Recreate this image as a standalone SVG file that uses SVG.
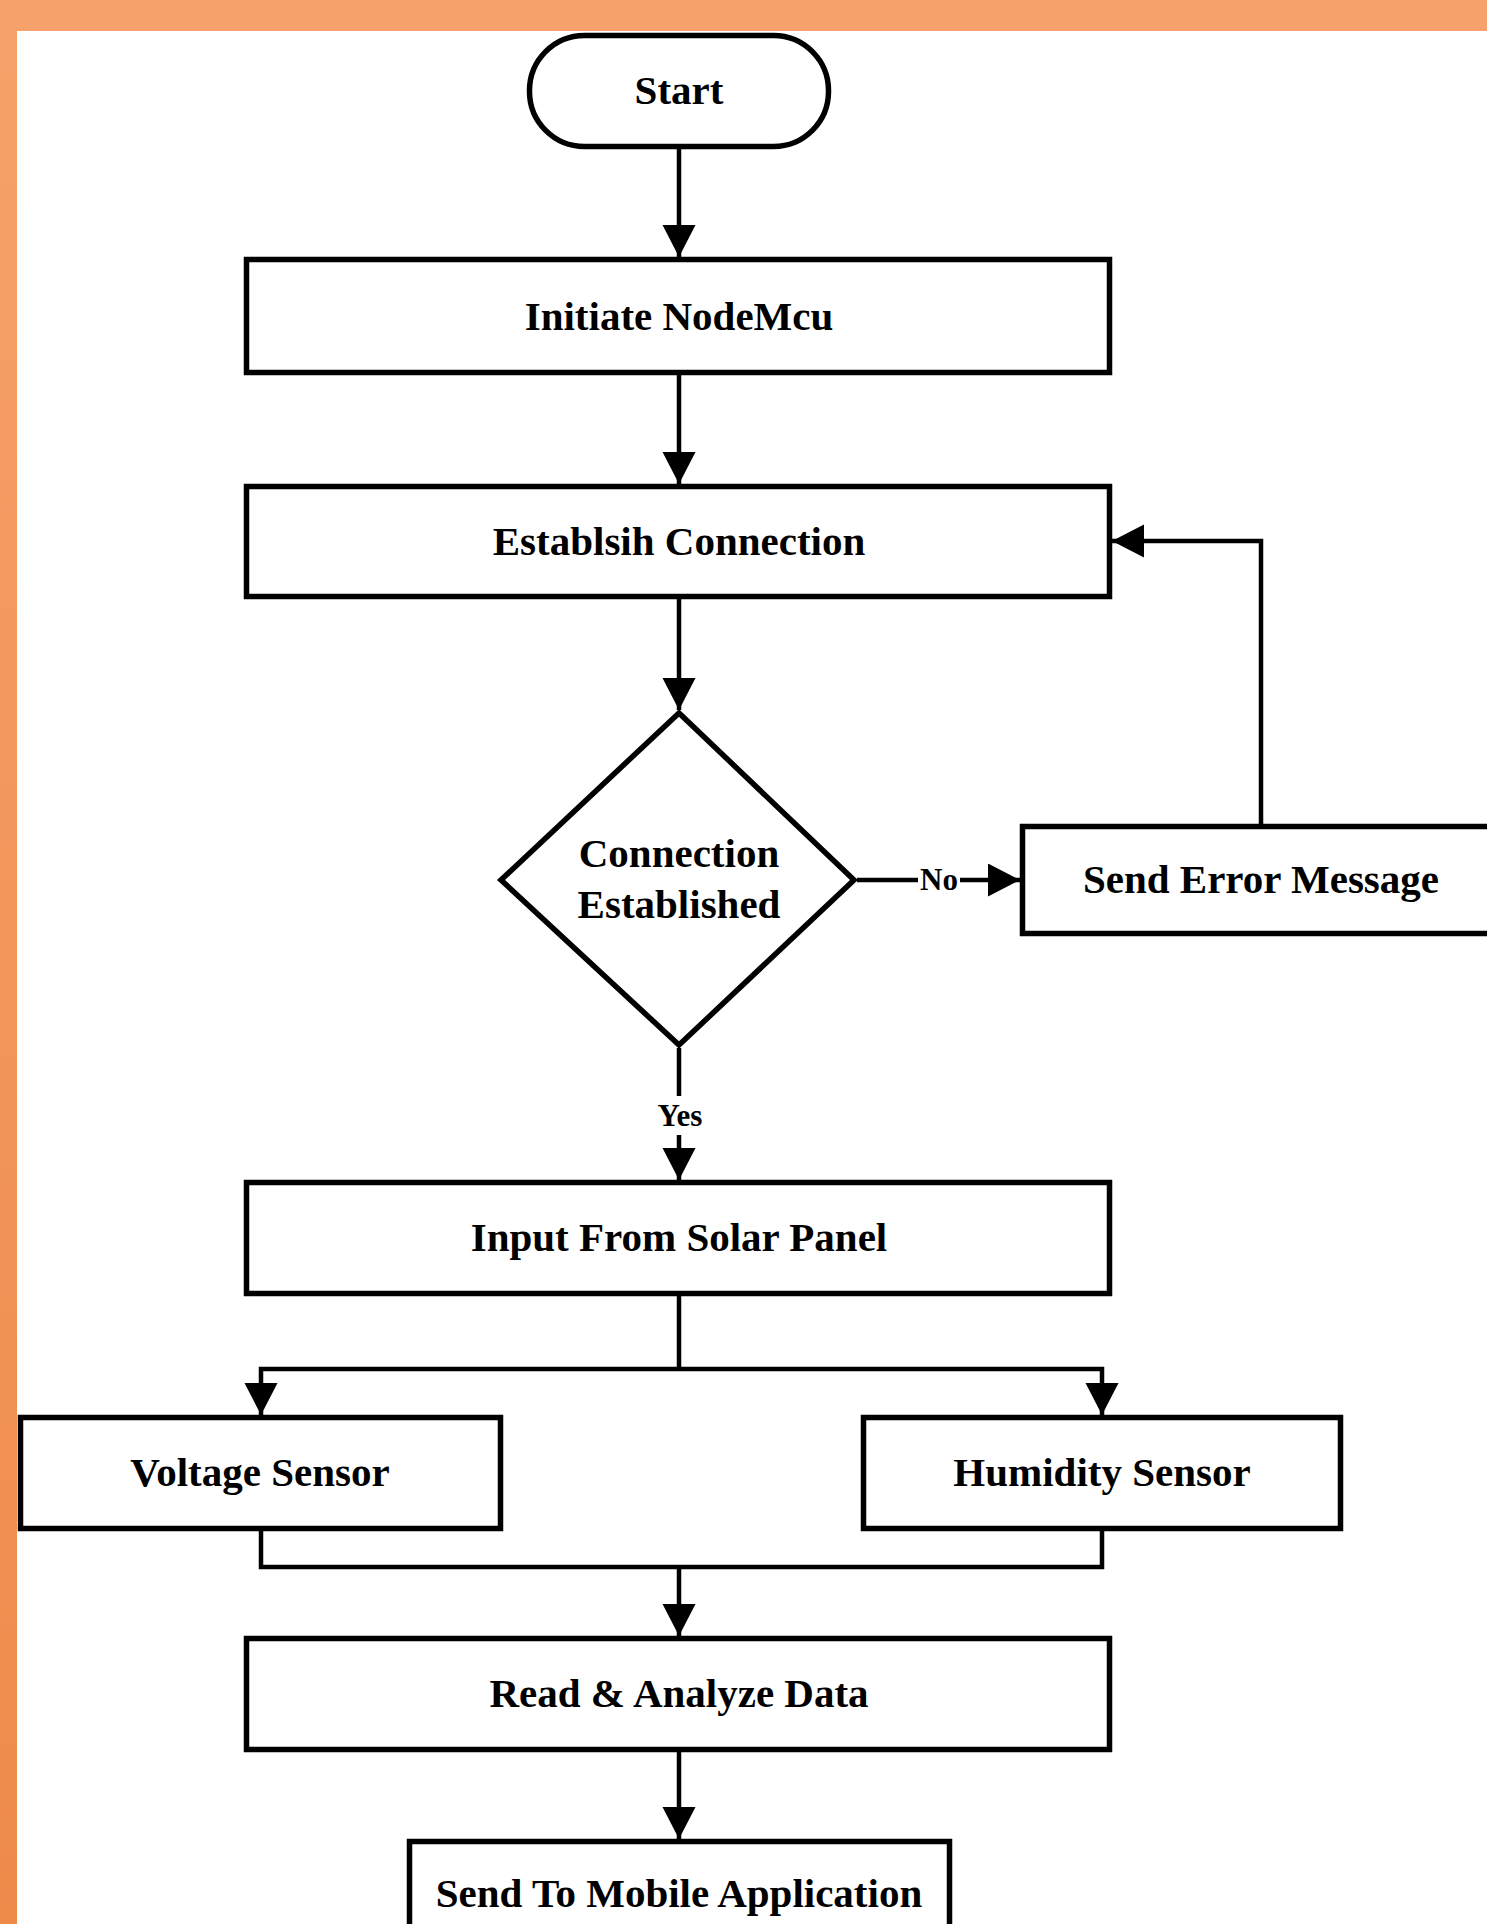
<svg xmlns="http://www.w3.org/2000/svg" width="1487" height="1924" viewBox="0 0 1487 1924">
<defs>
<linearGradient id="leftband" x1="0" y1="0" x2="0" y2="1">
<stop offset="0" stop-color="#F6A16B"/>
<stop offset="1" stop-color="#EE8B4B"/>
</linearGradient>
<marker id="arr" markerUnits="userSpaceOnUse" markerWidth="34" markerHeight="34" refX="32" refY="16.5" orient="auto" viewBox="0 0 34 34">
<path d="M0,0 L32,16.5 L0,33 Z" fill="#000"/>
</marker>
<style>
.box{fill:#fff;stroke:#000;stroke-width:5.5;stroke-linejoin:miter}
.lbl{font-family:"Liberation Serif","Times New Roman",serif;font-weight:bold;font-size:41px;fill:#000;text-anchor:middle}
.sm{font-family:"Liberation Serif","Times New Roman",serif;font-weight:bold;font-size:31px;fill:#000;text-anchor:middle}
.ln{fill:none;stroke:#000;stroke-width:4.5;stroke-linejoin:miter}
</style>
</defs>
<rect x="0" y="0" width="1487" height="1924" fill="#fff"/>
<rect x="0" y="0" width="17" height="1924" fill="url(#leftband)"/>
<rect x="0" y="0" width="1487" height="31" fill="#F6A16B"/>

<g id="connectors">
<path class="ln" d="M679,149 V257" marker-end="url(#arr)"/>
<path class="ln" d="M679,375 V484" marker-end="url(#arr)"/>
<path class="ln" d="M679,599 V710" marker-end="url(#arr)"/>
<path class="ln" d="M857,880 H1020" marker-end="url(#arr)"/>
<path class="ln" d="M679,1048 V1180" marker-end="url(#arr)"/>
<path class="ln" d="M1261,824 V541 H1112" marker-end="url(#arr)"/>
<path class="ln" d="M679,1295 V1369"/>
<path class="ln" d="M679,1369 H261 V1415" marker-end="url(#arr)"/>
<path class="ln" d="M679,1369 H1102 V1415" marker-end="url(#arr)"/>
<path class="ln" d="M261,1531 V1567 H1102 V1531"/>
<path class="ln" d="M679,1567 V1636" marker-end="url(#arr)"/>
<path class="ln" d="M679,1751 V1839" marker-end="url(#arr)"/>
<rect x="918" y="864" width="42" height="30" fill="#fff"/>
<text class="sm" x="939" y="890">No</text>
<rect x="654" y="1096" width="52" height="39" fill="#fff"/>
<text class="sm" x="680" y="1126">Yes</text>
</g>

<g id="start">
<rect class="box" x="529.5" y="35.5" width="299" height="111" rx="55" ry="55"/>
<text class="lbl" x="679" y="104">Start</text>
</g>
<g id="initiate">
<rect class="box" x="246.5" y="259.5" width="863" height="113"/>
<text class="lbl" x="679" y="330">Initiate NodeMcu</text>
</g>
<g id="establish">
<rect class="box" x="246.5" y="486.5" width="863" height="110"/>
<text class="lbl" x="679" y="555">Establsih Connection</text>
</g>
<g id="decision">
<polygon class="box" points="679,713 854,880 679,1045 501,880"/>
<text class="lbl" x="679" y="867">Connection</text>
<text class="lbl" x="679" y="918">Established</text>
</g>
<g id="error">
<rect class="box" x="1022.5" y="826.5" width="500" height="107"/>
<text class="lbl" x="1261" y="893">Send Error Message</text>
</g>
<g id="input">
<rect class="box" x="246.5" y="1182.5" width="863" height="111"/>
<text class="lbl" x="679" y="1251">Input From Solar Panel</text>
</g>
<g id="voltage">
<rect class="box" x="20.5" y="1417.5" width="480" height="111"/>
<text class="lbl" x="260" y="1486">Voltage Sensor</text>
</g>
<g id="humidity">
<rect class="box" x="863.5" y="1417.5" width="477" height="111"/>
<text class="lbl" x="1102" y="1486">Humidity Sensor</text>
</g>
<g id="read">
<rect class="box" x="246.5" y="1638.5" width="863" height="111"/>
<text class="lbl" x="679" y="1707">Read &amp; Analyze Data</text>
</g>
<g id="send">
<rect class="box" x="409.5" y="1841.5" width="540" height="120"/>
<text class="lbl" x="679" y="1907">Send To Mobile Application</text>
</g>
</svg>
